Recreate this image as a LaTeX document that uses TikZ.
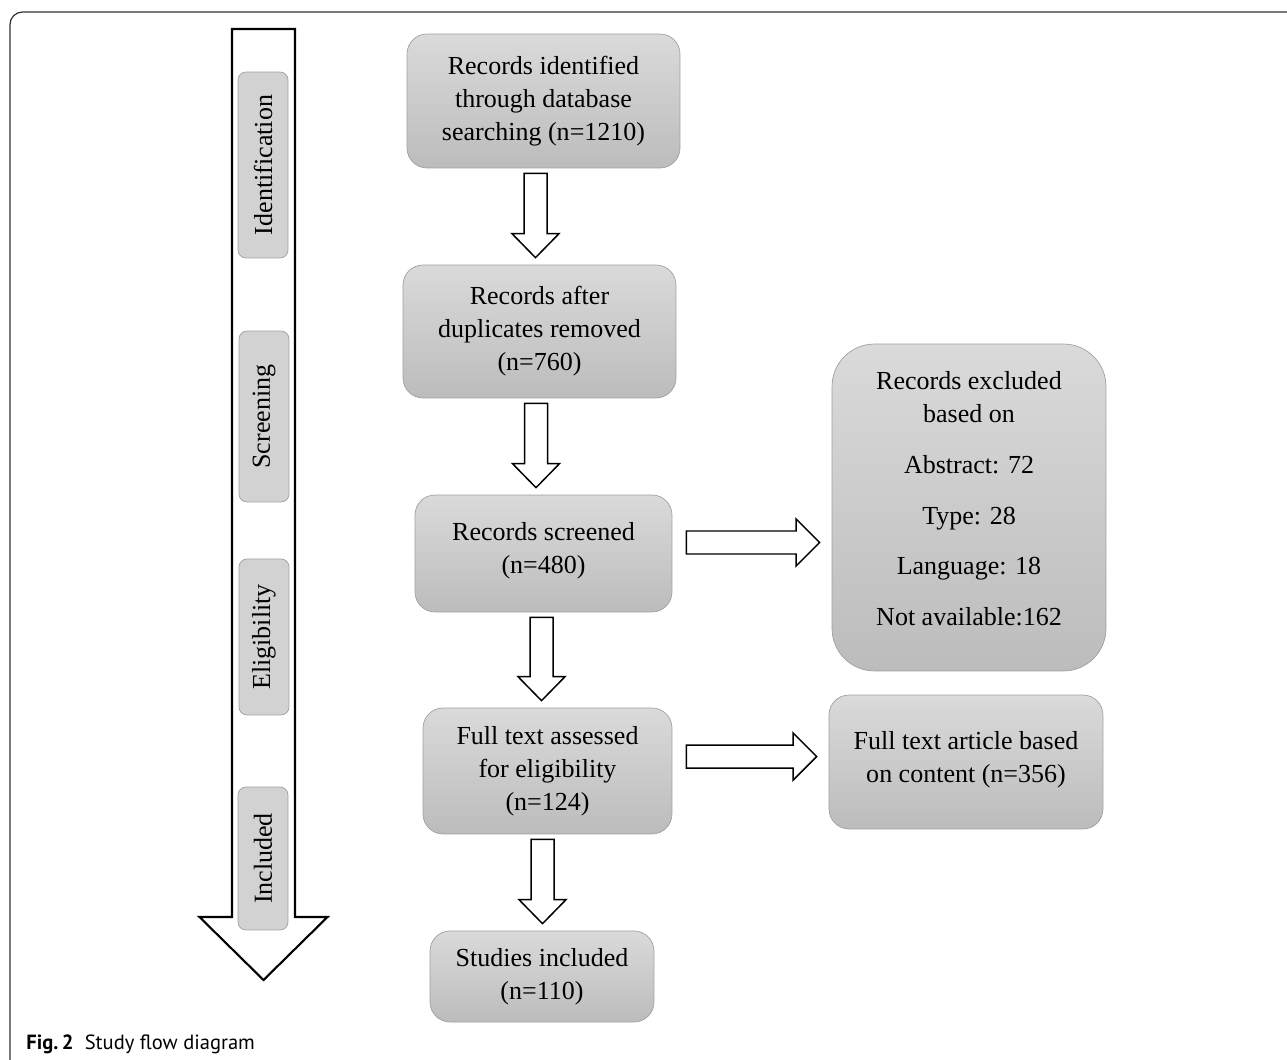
\documentclass[tikz,border=0pt]{standalone}
\usepackage{fontspec}
\setmainfont{Liberation Serif}
\newfontfamily\capfont{PT Sans}
\usetikzlibrary{calc}

\definecolor{boxtop}{RGB}{218,218,218}
\definecolor{boxbot}{RGB}{188,188,188}
\definecolor{boxline}{RGB}{160,160,160}
\definecolor{tagfill}{RGB}{210,210,210}

% hollow block arrows between two boxes
\newcommand{\flowdown}[3]{%
  \draw[blockarrow] ($(#3,0 |- #1.south)+(-11.5,5)$) -- ($(#3,0 |- #2.north)+(-11.5,-31)$)
    -- ($(#3,0 |- #2.north)+(-23.5,-31)$) -- ($(#3,0 |- #2.north)+(0,-7)$)
    -- ($(#3,0 |- #2.north)+(23.5,-31)$) -- ($(#3,0 |- #2.north)+(11.5,-31)$)
    -- ($(#3,0 |- #1.south)+(11.5,5)$) -- cycle;}
\newcommand{\flowright}[3]{%
  \draw[blockarrow] ($(#1.east |- 0,#3)+(14,-11.5)$) -- ($(#2.west |- 0,#3)+(-35.5,-11.5)$)
    -- ($(#2.west |- 0,#3)+(-35.5,-23.5)$) -- ($(#2.west |- 0,#3)+(-12,0)$)
    -- ($(#2.west |- 0,#3)+(-35.5,23.5)$) -- ($(#2.west |- 0,#3)+(-35.5,11.5)$)
    -- ($(#1.east |- 0,#3)+(14,11.5)$) -- cycle;}

\begin{document}
\begin{tikzpicture}[
  x=0.02cm, y=-0.02cm,
  flowbox/.style={rectangle, draw=boxline, rounded corners=0.4cm, top color=boxtop, bottom color=boxbot, align=center, font=\fontsize{14.8}{18.8}\selectfont, inner sep=0pt},
  tagbox/.style={rectangle, draw=boxline, fill=tagfill, rounded corners=0.16cm, rotate=90, minimum height=1cm, font=\fontsize{14.8}{18.8}\selectfont, inner sep=0pt},
  blockarrow/.style={draw=black, fill=white, line width=0.85pt, line join=miter},
  bigarrow/.style={draw=black, fill=white, line width=1.2pt, line join=miter}
]
\useasboundingbox (0,0) rectangle (1287,1060);

% frame
\draw[black!80, line width=0.7pt, rounded corners=0.25cm] (10,12) rectangle (1320,1090);

% phase arrow on the left
\draw[bigarrow] (232,29) -- (232,917) -- (199.5,917) -- (263.5,980) -- (327.5,917) -- (295,917) -- (295,29) -- cycle;
\node[tagbox, minimum width=3.72cm] (t_ident) at (263,165) {Identification};
\node[tagbox, minimum width=3.42cm] (t_screen) at (264,416.5) {Screening};
\node[tagbox, minimum width=3.12cm] (t_elig) at (264,637) {Eligibility};
\node[tagbox, minimum width=2.86cm] (t_incl) at (263,858.5) {Included};

% central column
\node[flowbox, minimum width=5.46cm, minimum height=2.68cm] (b1) at (543.5,101) {Records identified\\through database\\searching (n=1210)};
\node[flowbox, minimum width=5.46cm, minimum height=2.66cm] (b2) at (539.5,331.5) {Records after\\duplicates removed\\(n=760)};
\node[flowbox, minimum width=5.14cm, minimum height=2.34cm] (b3) at (543.5,553.5) {Records screened\\(n=480)\\[-13pt]\mbox{}};
\node[flowbox, minimum width=4.98cm, minimum height=2.52cm] (b4) at (547.5,771) {Full text assessed\\for eligibility\\(n=124)};
\node[flowbox, minimum width=4.48cm, minimum height=1.82cm] (b5) at (542,976.5) {Studies included\\(n=110)};

\foreach \a/\b/\x in {b1/b2/535.5, b2/b3/536, b3/b4/541.5, b4/b5/542.5} {
  \flowdown{\a}{\b}{\x}
}

% exclusions on the right
\node[flowbox, rounded corners=0.85cm, minimum width=5.48cm, minimum height=6.54cm] (r_excl) at (969,507.5) {Records excluded\\based on\\[10pt]Abstract: 72\\[10pt]Type: 28\\[10pt]Language: 18\\[10pt]Not available:162\\[-8.6pt]\mbox{}};
\node[flowbox, minimum width=5.48cm, minimum height=2.68cm] (r_full) at (966,762) {Full text article based\\on content (n=356)\\[-13pt]\mbox{}};

\flowright{b3}{r_excl}{542.5}
\flowright{b4}{r_full}{756.5}

% caption
\node[anchor=base west, font=\capfont\fontsize{11.7}{14}\selectfont, inner sep=0pt] (cap) at (26,1049) {\textbf{Fig.\,2}\hspace{0.55em}Study flow diagram};
\end{tikzpicture}
\end{document}
